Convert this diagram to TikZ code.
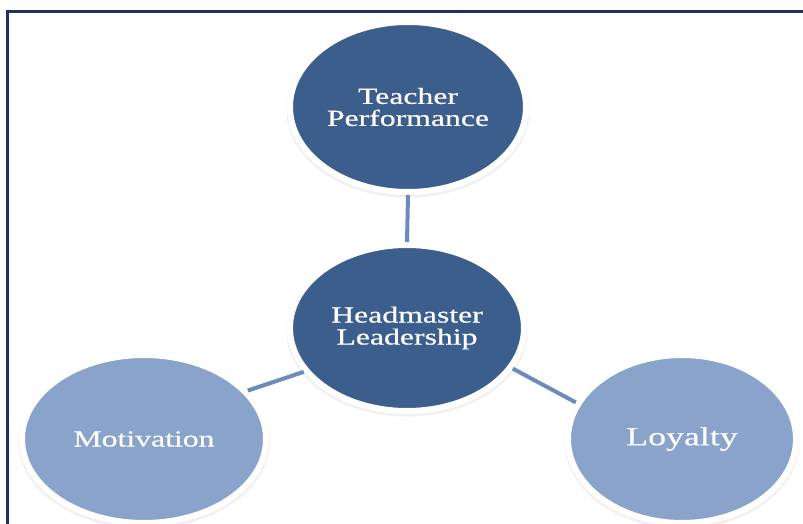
\documentclass[tikz,border=0pt]{standalone}
\usepackage{fontspec}
\setmainfont{Liberation Serif}[FakeStretch=1.38,FakeBold=0.5]
\usetikzlibrary{shapes.geometric,shadows}
\definecolor{darkfill}{RGB}{59,94,141}
\definecolor{lightfill}{RGB}{138,163,203}
\definecolor{linkblue}{RGB}{108,138,188}
\definecolor{framenavy}{RGB}{28,52,94}
\begin{document}
\begin{tikzpicture}[x=1pt,y=-1pt,
    bubble/.style={ellipse,draw=white,line width=6pt,outer sep=3pt,inner sep=0pt,
      text=white,align=center,font=\fontsize{23}{22}\selectfont,
      drop shadow={opacity=0.12,shadow xshift=0pt,shadow yshift=-3pt,shadow scale=1.03}},
    link/.style={draw=linkblue,line width=4pt}]

    \useasboundingbox (0,0) rectangle (803,524);
    \draw[framenavy,line width=3pt] (7,524) -- (7,12) -- (803,12);

    \node[bubble,fill=darkfill,minimum width=236pt,minimum height=170pt] (perf) at (408,107) {Teacher\\Performance};
    \node[bubble,fill=darkfill,minimum width=234pt,minimum height=166pt] (lead) at (407,328) {Headmaster\\Leadership};
    \node[bubble,fill=lightfill,minimum width=244pt,minimum height=168pt] (motiv) at (144,439) {Motivation};
    \node[bubble,fill=lightfill,minimum width=228pt,minimum height=168pt,font=\fontsize{26}{26}\selectfont] (loyal) at (682,439) {Loyalty};

    \draw[link] (perf.south) -- (lead.north);
    \draw[link] (lead.-157) -- (motiv.25);
    \draw[link] (lead.-21) -- (loyal.161);

\end{tikzpicture}
\end{document}
